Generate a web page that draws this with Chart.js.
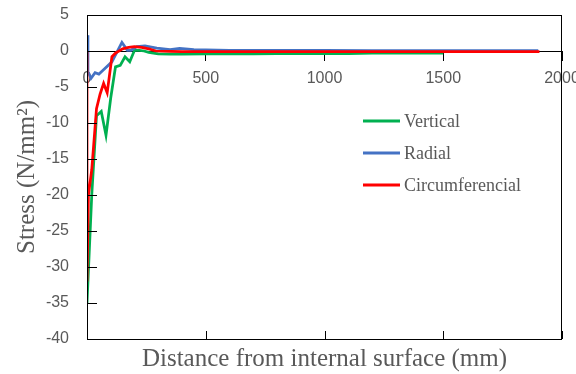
<!DOCTYPE html>
<html>
<head>
<meta charset="utf-8">
<script src="https://cdn.jsdelivr.net/npm/chart.js@4/dist/chart.umd.min.js"></script>
<style>
  html, body { margin: 0; padding: 0; background: #ffffff; }
  #wrap { width: 576px; height: 374px; position: relative; }
</style>
</head>
<body>
<div id="wrap"><canvas id="c" width="576" height="374"></canvas></div>
<script>
// ---- data ----
const seriesNames = ['Vertical', 'Radial', 'Circumferencial'];
const seriesColors = ['#00B050', '#4472C4', '#FF0000'];

const verticalX = [0, 20, 40, 60, 80, 100, 120, 140, 160, 180, 200, 220, 240, 260, 280, 300, 350, 400, 500, 600, 700, 800, 900, 1000, 1100, 1200, 1300, 1400, 1500];
const verticalY = [-35, -20, -9, -8.4, -11.7, -6.5, -2.2, -2, -0.8, -1.5, 0.1, 0.1, 0, -0.2, -0.3, -0.4, -0.45, -0.45, -0.4, -0.4, -0.4, -0.35, -0.35, -0.35, -0.35, -0.3, -0.3, -0.3, -0.3];

const radialX = [0, 4, 17, 34, 50, 63, 105, 147, 170, 185, 210, 244, 294, 350, 390, 450, 500, 600, 700, 800, 900, 1000, 1200, 1400, 1600, 1800, 1900];
const radialY = [2.2, -2.9, -3.8, -3.0, -3.2, -2.8, -1.5, 1.2, 0.1, 0.1, 0.6, 0.7, 0.4, 0.2, 0.35, 0.2, 0.15, 0.1, 0.1, 0.1, 0.1, 0.1, 0.05, 0.05, 0.05, 0.05, 0.05];

const circX = [0, 0, 6, 20, 40, 55, 70, 85, 105, 120, 150, 175, 200, 230, 260, 290, 350, 400, 500, 600, 800, 1000, 1200, 1400, 1600, 1800, 1905];
const circY = [0, -32, -20, -16.5, -8, -6, -4.5, -5.8, -0.8, -0.3, 0.3, 0.5, 0.6, 0.5, 0.3, 0, -0.05, -0.1, -0.1, -0.1, -0.1, -0.1, -0.1, -0.1, -0.1, -0.1, -0.1];

const xTicks = [0, 500, 1000, 1500, 2000];
const yTicks = [5, 0, -5, -10, -15, -20, -25, -30, -35, -40];

function pairs(xs, ys) { return xs.map((x, i) => ({ x: x, y: ys[i] })); }

const GRAY = '#595959';

const framePlugin = {
  id: 'frame',
  afterDraw(chart) {
    const { ctx, chartArea: a } = chart;
    const xs = chart.scales.x, ys = chart.scales.y;
    ctx.save();
    ctx.strokeStyle = '#000';
    ctx.lineWidth = 1;
    ctx.strokeRect(a.left + 0.5, a.top + 0.5, a.right - a.left - 1, a.bottom - a.top);
    ctx.beginPath();
    // inward ticks on bottom border
    xTicks.forEach(v => {
      const px = Math.round(xs.getPixelForValue(v)) + 0.5;
      ctx.moveTo(px, a.bottom);
      ctx.lineTo(px, a.bottom - 8);
    });
    // inward ticks on left axis
    yTicks.forEach(v => {
      const py = Math.round(ys.getPixelForValue(v)) + 0.5;
      ctx.moveTo(a.left, py);
      ctx.lineTo(a.left + 10, py);
    });
    ctx.stroke();

    // legend
    const lx = a.left + 276, ly = a.top + 106, gap = 32;
    ctx.font = '18px "Liberation Serif", "Times New Roman", serif';
    ctx.textBaseline = 'middle';
    ctx.textAlign = 'left';
    chart.data.datasets.forEach((ds, i) => {
      const y = ly + i * gap;
      ctx.strokeStyle = ds.borderColor;
      ctx.lineWidth = 3;
      ctx.beginPath();
      ctx.moveTo(lx, y);
      ctx.lineTo(lx + 37, y);
      ctx.stroke();
      ctx.fillStyle = GRAY;
      ctx.fillText(ds.label, lx + 41, y + 1);
    });
    ctx.restore();
  }
};

const dataSets = [
  { label: seriesNames[0], data: pairs(verticalX, verticalY), borderColor: seriesColors[0], order: 3 },
  { label: seriesNames[1], data: pairs(radialX, radialY), borderColor: seriesColors[1], order: 2 },
  { label: seriesNames[2], data: pairs(circX, circY), borderColor: seriesColors[2], order: 1 }
].map(d => Object.assign(d, {
  xAxisID: 'x', yAxisID: 'y', showLine: true, pointRadius: 0, borderWidth: 2.75,
  tension: 0, fill: false, backgroundColor: d.borderColor
}));

function noPad(scale) {
  scale.paddingLeft = 0; scale.paddingRight = 0; scale.paddingTop = 0; scale.paddingBottom = 0;
}

new Chart(document.getElementById('c'), {
  type: 'scatter',
  data: { datasets: dataSets },
  options: {
    responsive: false,
    animation: false,
    devicePixelRatio: 1,
    layout: { padding: { top: 15, right: 14, left: 0, bottom: 0 } },
    plugins: { legend: { display: false }, tooltip: { enabled: false } },
    scales: {
      x: {
        type: 'linear', position: 'bottom', min: 0, max: 2000,
        ticks: { display: false, stepSize: 500 },
        grid: { display: false, drawTicks: false },
        border: { display: false },
        title: {
          display: true, text: 'Distance from internal surface (mm)', color: GRAY,
          font: { family: '"Liberation Serif", "Times New Roman", serif', size: 25 },
          padding: { top: 0, bottom: 0 }
        },
        afterFit(scale) { scale.height = 35; noPad(scale); }
      },
      x0: {
        type: 'linear', axis: 'x', position: { y: 0 }, min: 0, max: 2000,
        afterBuildTicks(scale) { scale.ticks = xTicks.map(v => ({ value: v })); },
        ticks: {
          color: GRAY, padding: 9, maxRotation: 0, autoSkip: false,
          callback: v => String(v),
          font: { family: '"Liberation Sans", Arial, sans-serif', size: 16 }
        },
        grid: { drawOnChartArea: false, drawTicks: true, tickLength: 9, color: '#000', lineWidth: 1 },
        border: { display: true, color: '#000', width: 1 },
        afterFit(scale) { noPad(scale); }
      },
      y: {
        type: 'linear', position: 'left', min: -40, max: 5,
        afterBuildTicks(scale) { scale.ticks = yTicks.map(v => ({ value: v })); },
        ticks: {
          color: GRAY, padding: 18, autoSkip: false,
          callback: v => String(v),
          font: { family: '"Liberation Sans", Arial, sans-serif', size: 16 }
        },
        grid: { display: false, drawTicks: false },
        border: { display: true, color: '#000', width: 1 },
        title: {
          display: true, text: 'Stress (N/mm²)', color: GRAY,
          font: { family: '"Liberation Serif", "Times New Roman", serif', size: 25 },
          padding: { top: 12, bottom: 0 }
        },
        afterFit(scale) { scale.width = 87; noPad(scale); }
      }
    }
  },
  plugins: [framePlugin]
});
</script>
</body>
</html>
